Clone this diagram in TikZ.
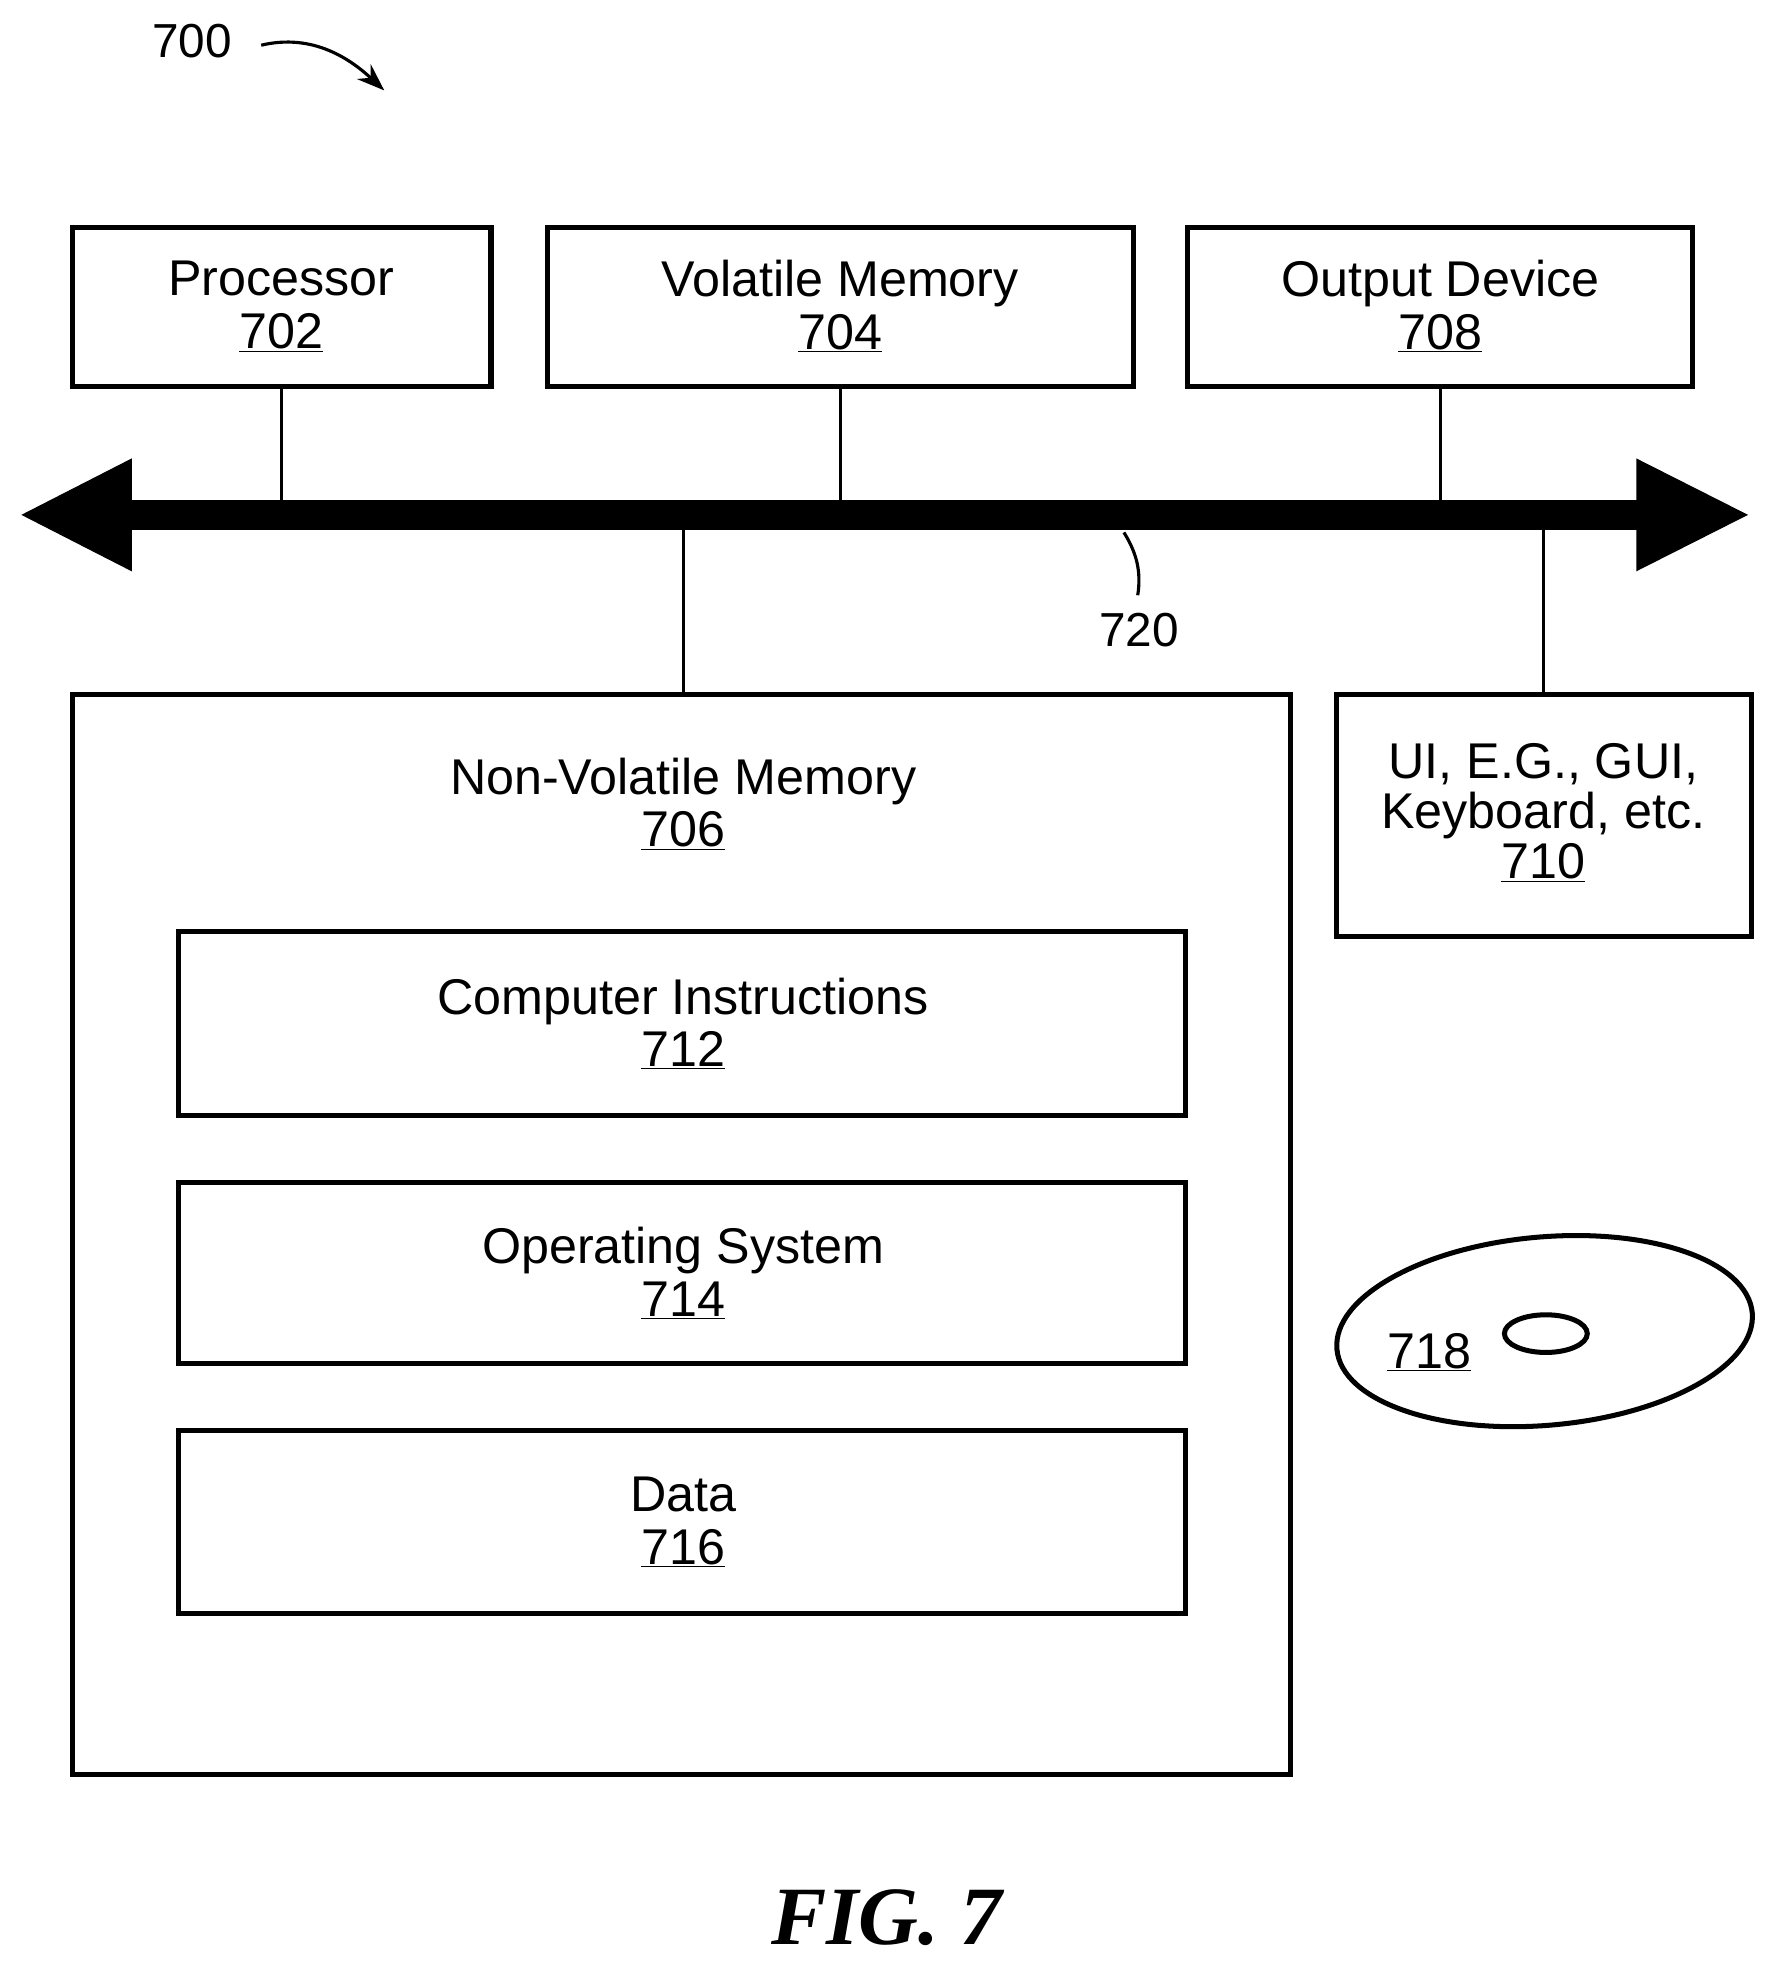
\documentclass[tikz,border=0pt]{standalone}
\usepackage{fontspec}
\setmainfont{Liberation Sans}
\newfontfamily\figfont{Liberation Serif}
\usetikzlibrary{arrows.meta}
\begin{document}
\begin{tikzpicture}[x=1pt,y=-1pt,
  box/.style={draw,line width=4pt,inner sep=0pt},
  lbl/.style={font=\fontsize{40}{48}\selectfont,align=center},
  ln/.style={line width=2.5pt}]
\useasboundingbox (0,0) rectangle (1411,1564);
\fill[white] (0,0) rectangle (1411,1564);
\newcommand{\ul}[1]{\underline{#1}}
% top boxes
\draw[box] (58,181) rectangle (391,308); \coordinate (p) at (224,308);
\node[lbl] (pt) at (224,244) {Processor\\[-6pt]\ul{702}};
\draw[box] (436,181) rectangle (903,308); \coordinate (v) at (669,308);
\node[lbl] (vt) at (669,244) {Volatile Memory\\[-6pt]\ul{704}};
\draw[box] (946,181) rectangle (1348,308); \coordinate (o) at (1147,308);
\node[lbl] (ot) at (1147,244) {Output Device\\[-6pt]\ul{708}};
% bus
\coordinate (bl) at (17,410); \coordinate (br) at (1392,410);
\fill (105,398) rectangle (1305,422);
\fill (17,410) -- (105,365) -- (105,455) -- cycle;
\fill (1392,410) -- (1303,365) -- (1303,455) -- cycle;
\draw[ln] (p) -- (224,400);
\draw[ln] (v) -- (669,400);
\draw[ln] (o) -- (1147,400);
\draw[ln] (544,420) -- (544,553);
\draw[ln] (1229,420) -- (1229,553);
\node[lbl,font=\fontsize{38}{46}\selectfont] (b720) at (907,502) {720};
\draw[ln] (895,424) .. controls (905,440) and (909,455) .. (906,474);
% NVM
\draw[box] (58,553) rectangle (1028,1413);
\node[lbl] (nt) at (544,640) {Non-Volatile Memory\\[-6pt]\ul{706}};
\draw[box] (142,742) rectangle (944,888);
\node[lbl] at (544,815) {Computer Instructions\\[-6pt]\ul{712}};
\draw[box] (142,942) rectangle (944,1086);
\node[lbl] at (544,1014) {Operating System\\[-6pt]\ul{714}};
\draw[box] (142,1139) rectangle (944,1285);
\node[lbl] at (544,1212) {Data\\[-6pt]\ul{716}};
% UI
\draw[box] (1064,553) rectangle (1395,746);
\node[lbl] at (1229,647) {UI, E.G., GUI,\\[-8pt]Keyboard, etc.\\[-8pt]\ul{710}};
% disk
\draw[line width=4pt,rotate around={5:(1230,1060)}] (1230,1060) ellipse [x radius=166,y radius=75];
\draw[line width=4pt] (1231,1062) ellipse [x radius=33,y radius=15];
\node[lbl] at (1138,1077) {\ul{718}};
% 700
\node[lbl,font=\fontsize{38}{46}\selectfont] (t700) at (153,33) {700};
\draw[ln,-{Stealth[length=22pt,width=16pt]}] (208,36) .. controls (250,26) and (280,48) .. (306,72);
\node[font=\figfont\bfseries\itshape\fontsize{66}{70}\selectfont] at (706,1527) {FIG. 7};
\end{tikzpicture}
\end{document}
